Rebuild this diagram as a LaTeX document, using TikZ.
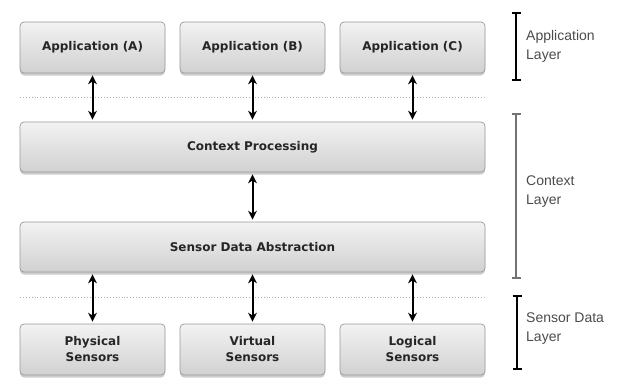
\documentclass[tikz,border=0pt]{standalone}
\usepackage{fontspec}
\setmainfont{DejaVu Sans}
\newfontfamily\labelfont{Liberation Sans}
\usetikzlibrary{shadows,arrows.meta}
\begin{document}
\begin{tikzpicture}[x=1pt,y=-1pt,
  layerbox/.style={draw=black!40, line width=0.7pt, rounded corners=4pt,
    top color=black!5, bottom color=black!18,
    drop shadow={opacity=0.4, shadow xshift=0pt, shadow yshift=-2.5pt},
    font=\fontsize{12}{16}\selectfont\bfseries, text=black!85, align=center,
    inner sep=0pt},
  smallbox/.style={layerbox, minimum width=145pt, minimum height=51pt},
  widebox/.style={layerbox, minimum width=465pt, minimum height=50pt},
  link/.style={line width=2pt, {Stealth[length=9pt,width=9pt]}-{Stealth[length=9pt,width=9pt]}, shorten <=2pt, shorten >=2pt},
  sep/.style={black!30, line width=0.9pt, dotted},
  bracket/.style={line width=2pt, {Bar[width=9pt]}-{Bar[width=9pt]}},
  layerlabel/.style={anchor=north west, align=left, inner sep=0pt,
    font=\labelfont\fontsize{14}{19}\selectfont, text=black!70}
]
\fill[white] (0,0) rectangle (617,380);
\useasboundingbox (0,0) rectangle (617,380);

% top layer
\node[smallbox] (appA) at (92.5,47.5) {Application (A)};
\node[smallbox] (appB) at (252.5,47.5) {Application (B)};
\node[smallbox] (appC) at (412.5,47.5) {Application (C)};

% context
\node[widebox] (ctx) at (252.5,147) {Context Processing};
\node[widebox] (sda) at (252.5,247) {Sensor Data Abstraction};

% sensors
\node[smallbox] (phys) at (92.5,349.5) {Physical\\Sensors};
\node[smallbox] (virt) at (252.5,349.5) {Virtual\\Sensors};
\node[smallbox] (logi) at (412.5,349.5) {Logical\\Sensors};

% dotted separators
\coordinate (d1l) at (20,97);
\coordinate (d1r) at (485,97);
\coordinate (d2l) at (20,297);
\coordinate (d2r) at (485,297);
\draw[sep] (d1l) -- (d1r);
\draw[sep] (d2l) -- (d2r);

% arrows
\draw[link] (appA.south) -- (appA.south |- ctx.north);
\draw[link] (appB.south) -- (appB.south |- ctx.north);
\draw[link] (appC.south) -- (appC.south |- ctx.north);
\draw[link] (ctx.south) -- (sda.north);
\draw[link] (phys.north |- sda.south) -- (phys.north);
\draw[link] (virt.north |- sda.south) -- (virt.north);
\draw[link] (logi.north |- sda.south) -- (logi.north);

% brackets
\coordinate (b1t) at (516,12);
\coordinate (b1b) at (516,81);
\coordinate (b2t) at (516,113);
\coordinate (b2b) at (516,279);
\coordinate (b3t) at (517,295);
\coordinate (b3b) at (517,370);
\draw[bracket, black] (b1t) -- (b1b);
\draw[bracket, black!55] (b2t) -- (b2b);
\draw[bracket, black] (b3t) -- (b3b);

\node[layerlabel] (l1) at (526,30) {Application\\Layer};
\node[layerlabel] (l2) at (526,176) {Context\\Layer};
\node[layerlabel] (l3) at (526,313) {Sensor Data\\Layer};
\end{tikzpicture}
\end{document}
